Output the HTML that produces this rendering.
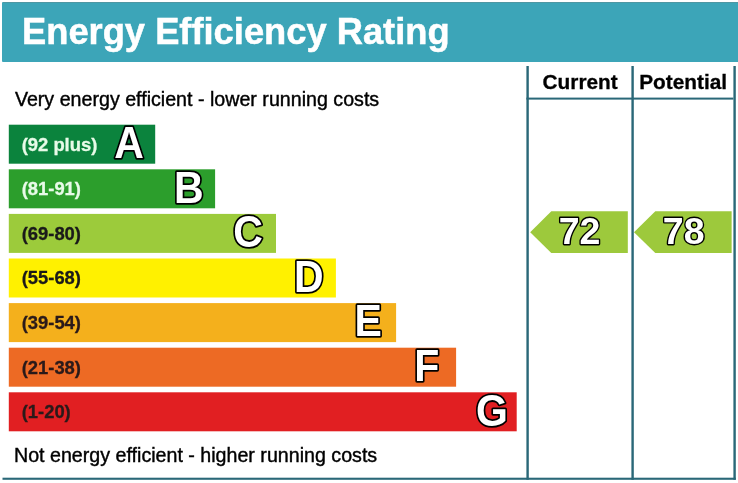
<!DOCTYPE html>
<html><head><meta charset="utf-8">
<style>
html,body{margin:0;padding:0;background:#fff;width:738px;height:483px;overflow:hidden}
svg{display:block;will-change:transform}
text{font-family:"Liberation Sans",sans-serif}
</style></head>
<body>
<svg width="738" height="483" viewBox="0 0 738 483">

<rect x="2" y="2" width="743" height="60" rx="1" fill="#3ca5b8"/>
<rect x="3" y="2" width="743" height="1" fill="#4e97a3"/>
<text x="22" y="44.3" font-size="36.3" font-weight="bold" fill="#ffffff" stroke="#ffffff" stroke-width="0.5">Energy Efficiency Rating</text>
<text x="14.9" y="105.7" font-size="19.65" fill="#000000" stroke="#000000" stroke-width="0.4">Very energy efficient - lower running costs</text>
<text x="14" y="461.6" font-size="19.65" fill="#000000" stroke="#000000" stroke-width="0.4">Not energy efficient - higher running costs</text>
<g fill="#2a6878">
<rect x="526.4" y="66" width="2.4" height="413.8"/>
<rect x="631.4" y="66" width="2.4" height="413.8"/>
<rect x="733.4" y="66" width="2.4" height="413.8"/>
<rect x="526.4" y="97.6" width="207" height="2"/>
<rect x="2.5" y="477.7" width="733.3" height="2.1"/>
</g>
<text x="542.6" y="88.7" font-size="20.8" font-weight="bold" fill="#000000" stroke="#000000" stroke-width="0.3">Current</text>
<text x="639.2" y="89" font-size="20.8" font-weight="bold" fill="#000000" stroke="#000000" stroke-width="0.3">Potential</text>
<rect x="8.8" y="124.7" width="146.4" height="39" fill="#0b833d"/>
<rect x="8.8" y="169.3" width="206.3" height="39" fill="#2c9e2c"/>
<rect x="8.8" y="213.9" width="267.2" height="39" fill="#9ccb3b"/>
<rect x="8.8" y="258.5" width="327.1" height="39" fill="#fff100"/>
<rect x="8.8" y="303.1" width="387.3" height="39" fill="#f4b01c"/>
<rect x="8.8" y="347.7" width="447.3" height="39" fill="#ed6a24"/>
<rect x="8.8" y="392.3" width="507.9" height="39" fill="#e11f22"/>
<text x="21.7" y="150.5" font-size="18.4" font-weight="bold" fill="#e8fbe8" stroke="#e8fbe8" stroke-width="0.3">(92 plus)</text>
<text x="21.7" y="195.1" font-size="18.4" font-weight="bold" fill="#e8fbe8" stroke="#e8fbe8" stroke-width="0.3">(81-91)</text>
<text x="21.7" y="239.7" font-size="18.4" font-weight="bold" fill="#1a1a1a" stroke="#1a1a1a" stroke-width="0.3">(69-80)</text>
<text x="21.7" y="284.3" font-size="18.4" font-weight="bold" fill="#1a1a1a" stroke="#1a1a1a" stroke-width="0.3">(55-68)</text>
<text x="21.7" y="328.9" font-size="18.4" font-weight="bold" fill="#2a1a1a" stroke="#2a1a1a" stroke-width="0.3">(39-54)</text>
<text x="21.7" y="373.5" font-size="18.4" font-weight="bold" fill="#2a1a1a" stroke="#2a1a1a" stroke-width="0.3">(21-38)</text>
<text x="21.7" y="418.1" font-size="18.4" font-weight="bold" fill="#2a1a1a" stroke="#2a1a1a" stroke-width="0.3">(1-20)</text>
<text transform="translate(114.2 157.6) scale(1 1.07)" font-size="41" font-weight="bold" fill="#fff" stroke="#000" stroke-width="3.4" paint-order="stroke" stroke-linejoin="round">A</text>
<text transform="translate(173.9 202.6) scale(1 1.07)" font-size="41" font-weight="bold" fill="#fff" stroke="#000" stroke-width="3.4" paint-order="stroke" stroke-linejoin="round">B</text>
<text transform="translate(233.2 247.1) scale(1 1.07)" font-size="41" font-weight="bold" fill="#fff" stroke="#000" stroke-width="3.4" paint-order="stroke" stroke-linejoin="round">C</text>
<text transform="translate(294 291.6) scale(1 1.07)" font-size="41" font-weight="bold" fill="#fff" stroke="#000" stroke-width="3.4" paint-order="stroke" stroke-linejoin="round">D</text>
<text transform="translate(354.4 336.1) scale(1 1.07)" font-size="41" font-weight="bold" fill="#fff" stroke="#000" stroke-width="3.4" paint-order="stroke" stroke-linejoin="round">E</text>
<text transform="translate(414.3 381.1) scale(1 1.07)" font-size="41" font-weight="bold" fill="#fff" stroke="#000" stroke-width="3.4" paint-order="stroke" stroke-linejoin="round">F</text>
<text transform="translate(475.9 426.1) scale(1 1.07)" font-size="41" font-weight="bold" fill="#fff" stroke="#000" stroke-width="3.4" paint-order="stroke" stroke-linejoin="round">G</text>
<polygon points="530.2,232.15 551.3,211.2 627.8,211.2 627.8,253.1 551.3,253.1" fill="#9dc93c"/>
<text x="558.7" y="243.7" font-size="37.5" font-weight="bold" fill="#fff" stroke="#000" stroke-width="2.8" paint-order="stroke" stroke-linejoin="round">72</text>
<polygon points="634,232.15 655.3,211.2 731.6,211.2 731.6,253.1 655.3,253.1" fill="#9dc93c"/>
<text x="662.8" y="243.7" font-size="37.5" font-weight="bold" fill="#fff" stroke="#000" stroke-width="2.8" paint-order="stroke" stroke-linejoin="round">78</text>
</svg>
</body></html>
